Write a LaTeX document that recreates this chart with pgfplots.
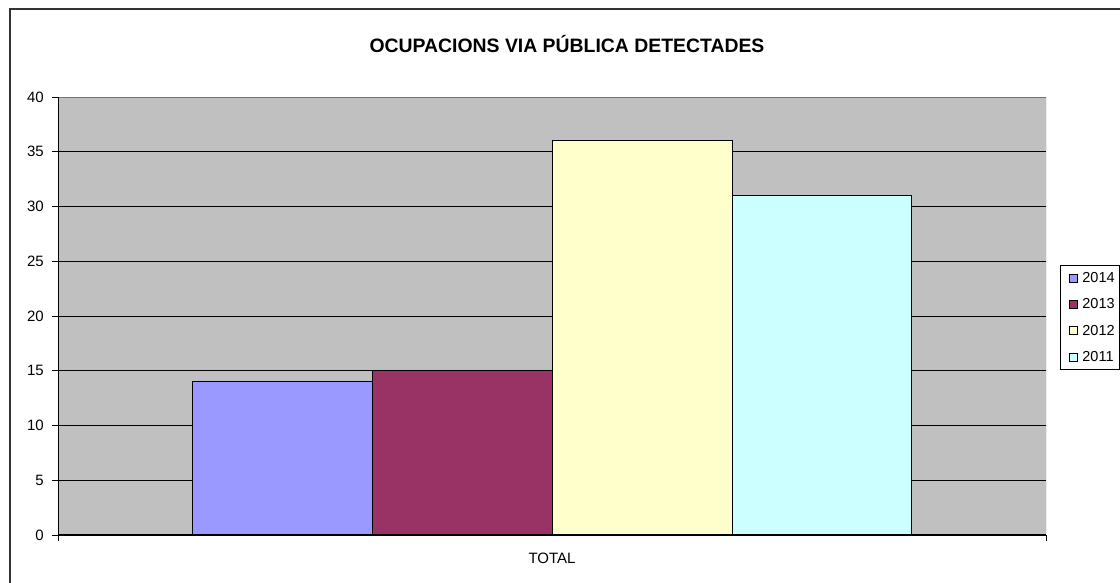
\documentclass[border=0pt]{standalone}
\usepackage{pgfplots}
\pgfplotsset{compat=1.18}
\usepackage{fontspec}
\setmainfont{Liberation Sans}
\definecolor{bgc}{HTML}{C0C0C0}
\definecolor{cA}{HTML}{9999FF}
\definecolor{cB}{HTML}{993366}
\definecolor{cC}{HTML}{FFFFCC}
\definecolor{cD}{HTML}{CCFFFF}
\pgfplotsset{sq/.style={legend image code/.code={\draw[##1,draw=black,line width=0.8pt] (5pt,-4pt) rectangle (13pt,4pt); \path (0pt,0pt) (16pt,0pt);}}}
\begin{document}
\begin{tikzpicture}
\useasboundingbox (0pt,0pt) rectangle (1120pt,582pt);
\draw[line width=1.3pt, black!80] (10pt,-5pt) -- (10pt,573pt) -- (1125pt,573pt);
\begin{axis}[
  at={(58pt,47pt)}, anchor=south west,
  width=988pt, height=438pt, scale only axis,
  xmin=-2.745, xmax=2.745, ymin=0, ymax=40,
  ytick={0,5,...,40},
  tick pos=left,
  ymajorgrids, major grid style={black, line width=0.9pt},
  xtick={0}, xticklabels={TOTAL},
  x tick style={draw=none},
  extra x ticks={-2.745,2.745}, extra x tick labels={},
  extra x tick style={x tick style={draw=black, line width=0.9pt}, major tick length=6pt, grid=none},
  tick align=outside, major tick length=6pt,
  y tick style={black, line width=0.9pt},
  /pgf/number format/assume math mode=true,
  tick label style={font=\fontsize{15}{17}\selectfont},
  yticklabel style={inner sep=0pt, xshift=-8pt},
  xticklabel style={inner sep=0pt, yshift=-12pt},
  axis background/.style={fill=bgc},
  axis line style={draw=none},
  legend style={at={(1.0142,0.6165)}, anchor=north west, draw=black, line width=0.9pt, fill=white,
    font=\fontsize{14.5}{17}\selectfont, row sep=10.6pt, inner xsep=3pt, inner ysep=5pt},
  legend cell align=left,
]
\addplot[ybar, bar width=1, bar shift=-1.5, fill=cA, draw=black, line width=0.9pt, sq] coordinates {(0,14)};
\addplot[ybar, bar width=1, bar shift=-0.5, fill=cB, draw=black, line width=0.9pt, sq] coordinates {(0,15)};
\addplot[ybar, bar width=1, bar shift=0.5, fill=cC, draw=black, line width=0.9pt, sq] coordinates {(0,36)};
\addplot[ybar, bar width=1, bar shift=1.5, fill=cD, draw=black, line width=0.9pt, sq] coordinates {(0,31)};
\legend{2014\hspace{8pt},2013\hspace{8pt},2012\hspace{8pt},2011\hspace{8pt}}
\draw[black!55, line width=1pt] (rel axis cs:0,1) -- (rel axis cs:1,1) -- (rel axis cs:1,0);
\draw[black, line width=1.2pt] (rel axis cs:0,1) -- (rel axis cs:0,0) -- (rel axis cs:1,0);
\end{axis}
\node[font=\bfseries\fontsize{19.4}{22}\selectfont] at (567pt,538pt) {OCUPACIONS VIA PÚBLICA DETECTADES};
\end{tikzpicture}
\end{document}
